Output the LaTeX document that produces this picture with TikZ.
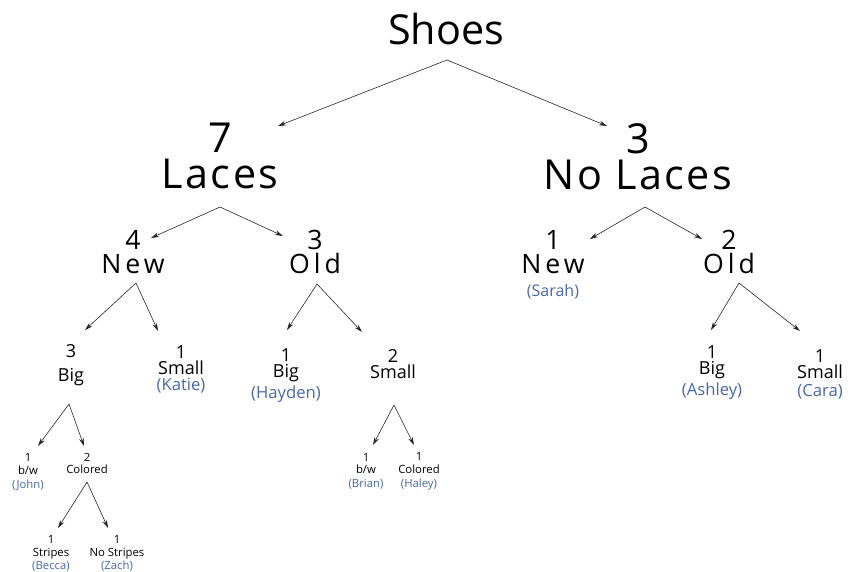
\documentclass[tikz,border=0pt]{standalone}
\usepackage{fontspec}
\setmainfont{Open Sans}
\newfontfamily\spaced[LetterSpace=15]{Open Sans}
\newfontfamily\wide[LetterSpace=6]{Open Sans}
\usetikzlibrary{arrows.meta}
\definecolor{namecol}{RGB}{72,102,170}
\newcommand{\who}[1]{\textcolor{namecol}{(#1)}}

\begin{document}
\begin{tikzpicture}[x=0.75pt,y=-0.75pt,
    arr/.style={-{Stealth[length=6pt,width=3.5pt]}, line width=0.45pt, black!85},
    lvlone/.style={inner sep=0pt, align=center, font=\fontsize{31}{27}\selectfont},
    lvltwo/.style={inner sep=0pt, align=center, font=\fontsize{20}{18}\selectfont},
    lvlthree/.style={inner sep=0pt, align=center, font=\fontsize{13.5}{12}\selectfont},
    lvlfour/.style={inner sep=0pt, align=center, font=\fontsize{8.5}{9.5}\selectfont}]
    \useasboundingbox (0,0) rectangle (848,571);

            \node (shoes) [lvlone, anchor=base] at (446,44) {Shoes};
            \node (laces) [lvlone] at (220,156) {7\\{\wide Laces}};
            \node (nolaces) [lvlone] at (638,157) {3\\{\wide No Laces}};

            \node (new) [lvltwo] at (133,252) {4\\{\spaced New}};
            \node (old) [lvltwo] at (315,252) {3\\{\spaced Old}};
            \node (newr) [lvltwo] at (553,264.5) {1\\{\spaced New}\\[-1pt]{\fontsize{12}{12}\selectfont\who{Sarah}}};
            \node (oldr) [lvltwo] at (729,252) {2\\{\spaced Old}};

            \node (big) [lvlthree] at (71,365.5) {3\\[6pt]Big};
            \node (small) [lvlthree] at (181,369.5) {1\\Small\\[0pt]{\fontsize{12.5}{12}\selectfont\who{Katie}}};
            \node (bigold) [lvlthree] at (286,375.5) {1\\Big\\[2pt]{\fontsize{12.5}{12}\selectfont\who{Hayden}}};
            \node (smallold) [lvlthree] at (393,364) {2\\Small};
            \node (bigr) [lvlthree] at (712,372.5) {1\\Big\\[2pt]{\fontsize{12.5}{12}\selectfont\who{Ashley}}};
            \node (smallr) [lvlthree] at (820,374.5) {1\\Small\\[2pt]{\fontsize{12.5}{12}\selectfont\who{Cara}}};

            \node (bw) [lvlfour] at (28,472) {1\\b/w\\[1pt]\who{John}};
            \node (colored) [lvlfour] at (87,463.5) {2\\Colored};
            \node (stripes) [lvlfour] at (51,553.5) {1\\Stripes\\[0.5pt]\who{Becca}};
            \node (nostripes) [lvlfour] at (117,553.5) {1\\No Stripes\\[0.5pt]\who{Zach}};
            \node (bwold) [lvlfour] at (366,471.5) {1\\b/w\\[1pt]\who{Brian}};
            \node (coloredold) [lvlfour] at (419,471.5) {1\\Colored\\[1pt]\who{Haley}};

            \draw[arr] ([shift={(1,16)}]shoes.base) -- ([shift={(58,-30)}]laces.center);
            \draw[arr] ([shift={(1,16)}]shoes.base) -- ([shift={(-31,-31)}]nolaces.center);
            \draw[arr] ([shift={(0,51)}]laces.center) -- ([shift={(18,-14)}]new.center);
            \draw[arr] ([shift={(0,51)}]laces.center) -- ([shift={(-32,-16)}]old.center);
            \draw[arr] ([shift={(7,50)}]nolaces.center) -- ([shift={(37,-25.5)}]newr.center);
            \draw[arr] ([shift={(7,50)}]nolaces.center) -- ([shift={(-27,-13)}]oldr.center);
            \draw[arr] ([shift={(3,31)}]new.center) -- ([shift={(14,-35.5)}]big.center);
            \draw[arr] ([shift={(3,31)}]new.center) -- ([shift={(-23,-38.5)}]small.center);
            \draw[arr] ([shift={(2,32)}]old.center) -- ([shift={(1,-45.5)}]bigold.center);
            \draw[arr] ([shift={(2,32)}]old.center) -- ([shift={(-31,-32)}]smallold.center);
            \draw[arr] ([shift={(10,31)}]oldr.center) -- ([shift={(-1,-42.5)}]bigr.center);
            \draw[arr] ([shift={(10,31)}]oldr.center) -- ([shift={(-20,-43.5)}]smallr.center);
            \draw[arr] ([shift={(-2,38.5)}]big.center) -- ([shift={(10,-26)}]bw.center);
            \draw[arr] ([shift={(-2,38.5)}]big.center) -- ([shift={(-3,-17.5)}]colored.center);
            \draw[arr] ([shift={(0,18.5)}]colored.center) -- ([shift={(7,-25.5)}]stripes.center);
            \draw[arr] ([shift={(0,18.5)}]colored.center) -- ([shift={(-9,-25.5)}]nostripes.center);
            \draw[arr] ([shift={(1,41)}]smallold.center) -- ([shift={(7,-26.5)}]bwold.center);
            \draw[arr] ([shift={(1,41)}]smallold.center) -- ([shift={(-5,-26.5)}]coloredold.center);
        \end{tikzpicture}
\end{document}
